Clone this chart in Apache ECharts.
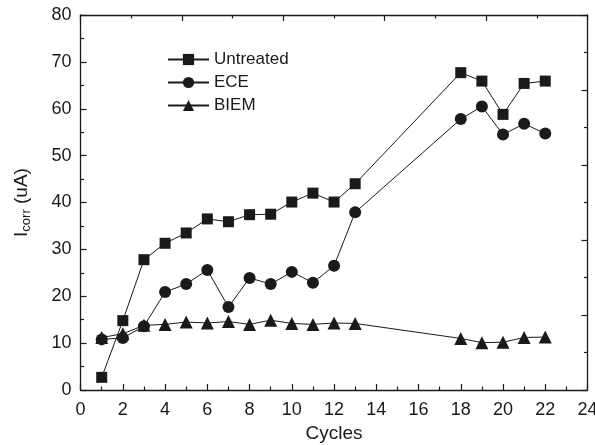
<!DOCTYPE html>
<html>
<head>
<meta charset="utf-8">
<script src="https://cdn.jsdelivr.net/npm/echarts@6/dist/echarts.min.js"></script>
<style>html,body{margin:0;padding:0;background:#fff}#c{width:595px;height:445px}</style>
</head>
<body>
<div id="c"></div>
<script>
const cycles = [1,2,3,4,5,6,7,8,9,10,11,12,13,18,19,20,21,22];
const untreated = [2.7,14.8,27.8,31.3,33.5,36.5,35.9,37.4,37.5,40.1,42.0,40.1,44.0,67.7,65.9,58.8,65.4,65.9];
const ece = [10.8,11.1,13.6,20.9,22.6,25.6,17.7,23.9,22.6,25.2,22.9,26.5,37.9,57.8,60.5,54.5,56.8,54.7];
const biem = [11.2,12.0,13.8,14.0,14.5,14.3,14.6,14.0,14.9,14.2,14.0,14.3,14.2,11.0,10.1,10.2,11.2,11.3];
const seriesNames = ['Untreated','ECE','BIEM'];
const xTicks = [0,24,2];
const yTicks = [0,80,10];

const pairs = arr => cycles.map((c,i)=>[c,arr[i]]);
const FONT = 'Liberation Sans, Arial, sans-serif';
const C = '#1a1a1a';
const axisCommon = {
  axisLine:{show:true,onZero:false,lineStyle:{color:C,width:1.3}},
  axisTick:{show:true,inside:true,length:6,lineStyle:{color:C,width:1.2}},
  minorTick:{show:true,splitNumber:2,length:3.5,lineStyle:{color:C,width:1.2}},
  splitLine:{show:false}
};
const chart = echarts.init(document.getElementById('c'),null,{renderer:'canvas'});
const mk = (name,data,symbol,size)=>({
  name, type:'line', data:pairs(data), symbol, symbolSize:size,
  lineStyle:{color:C,width:1}, itemStyle:{color:C}, showSymbol:true, animation:false, z:3
});
chart.setOption({
  animation:false,
  grid:{left:80.6,right:7.5,top:15,bottom:55,containLabel:false,outerBoundsMode:'none'},
  legend:{
    orient:'vertical', left:162, top:46, itemGap:6, itemWidth:41, itemHeight:14,
    textStyle:{fontFamily:FONT,fontSize:17,color:C,padding:[0,0,0,0]},
    data:seriesNames
  },
  xAxis:[
    Object.assign({type:'value',min:xTicks[0],max:xTicks[1],interval:xTicks[2],position:'bottom',
      name:'Cycles',nameLocation:'middle',nameGap:33,
      nameTextStyle:{fontFamily:FONT,fontSize:19,color:C},
      axisLabel:{fontFamily:FONT,fontSize:18,color:C,margin:11}},axisCommon),
    Object.assign({type:'value',min:0,max:24,interval:4.8,position:'top',axisLabel:{show:false}},axisCommon)
  ],
  yAxis:[
    Object.assign({type:'value',min:yTicks[0],max:yTicks[1],interval:yTicks[2],position:'left',
      name:'{a|I}{b|corr}{a| (uA)}',nameLocation:'middle',nameGap:48,nameRotate:90,
      nameTextStyle:{rich:{a:{fontFamily:FONT,fontSize:19,color:C},b:{fontFamily:FONT,fontSize:13,color:C,padding:[8,0,0,0]}}},
      axisLabel:{fontFamily:FONT,fontSize:18,color:C,margin:9}},axisCommon),
    Object.assign({type:'value',min:0,max:80,interval:16,position:'right',axisLabel:{show:false}},axisCommon)
  ],
  series:[
    mk(seriesNames[0],untreated,'rect',11),
    mk(seriesNames[1],ece,'circle',12),
    mk(seriesNames[2],biem,'triangle',13)
  ]
});
</script>
</body>
</html>
